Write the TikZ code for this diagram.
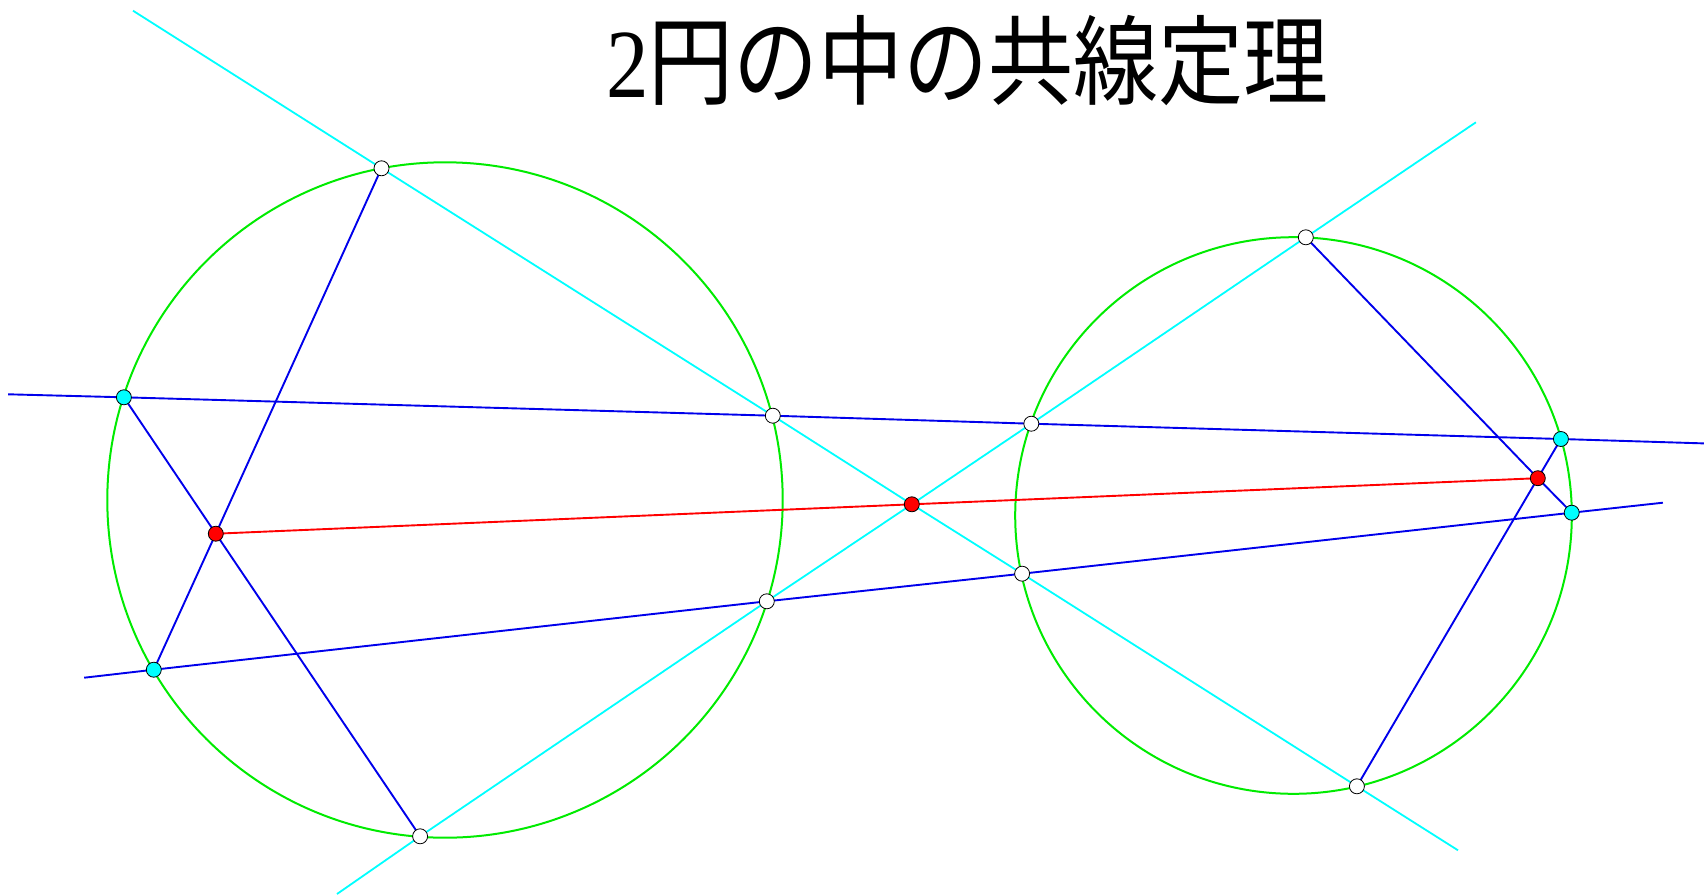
\documentclass[tikz,border=0pt]{standalone}
\usepackage{fontspec}
\setmainfont{Liberation Serif}
\newfontfamily\cjk{Noto Sans CJK JP}
\definecolor{gcirc}{RGB}{0,235,0}
\definecolor{cyanl}{RGB}{0,255,255}
\definecolor{bluel}{RGB}{0,0,235}
\definecolor{redl}{RGB}{255,0,0}
\tikzset{
  circ/.style={gcirc, line width=2pt},
  cline/.style={cyanl, line width=1.8pt},
  bline/.style={bluel, line width=1.9pt},
  rline/.style={redl, line width=1.9pt},
  pt/.style={circle, draw=black, line width=0.8pt, minimum size=15pt, inner sep=0pt},
  wpt/.style={pt, fill=white},
  cpt/.style={pt, fill=cyanl},
  rpt/.style={pt, fill=redl},
}
\begin{document}
\begin{tikzpicture}[x=1pt,y=-1pt]
\useasboundingbox (0,0) rectangle (1704,894);
% points
\coordinate (A) at (381.5,168.3);
\coordinate (P1) at (123.9,397.3);
\coordinate (W1) at (772.8,415.7);
\coordinate (R1) at (215.8,533.7);
\coordinate (P2) at (153.8,669.7);
\coordinate (B) at (420.1,836.3);
\coordinate (W2) at (766.8,601.3);
\coordinate (M) at (911.8,504.3);
\coordinate (T) at (1305.8,237.3);
\coordinate (W3) at (1031.3,423.7);
\coordinate (P3) at (1560.9,439);
\coordinate (R2) at (1537.8,478.2);
\coordinate (P4) at (1571.7,512.7);
\coordinate (W4) at (1022.1,573.7);
\coordinate (BB) at (1356.9,786.3);
% line ends
\coordinate (c1s) at (133,10.7);
\coordinate (c1e) at (1458,850.3);
\coordinate (c2s) at (337,894);
\coordinate (c2e) at (1475.9,122.3);
\coordinate (b1s) at (8.2,394.3);
\coordinate (b1e) at (1704,443.4);
\coordinate (b2s) at (84.2,677.7);
\coordinate (b2e) at (1662.9,502.7);
% circles
\draw[circ] (445,500) circle[radius=337.7];
\draw[circ] (1293.5,515.5) circle[radius=278.3];
% cyan lines
\draw[cline] (c1s) -- (A) -- (W1) -- (M) -- (W4) -- (BB) -- (c1e);
\draw[cline] (c2s) -- (B) -- (W2) -- (M) -- (W3) -- (T) -- (c2e);
% blue lines
\draw[bline] (b1s) -- (P1) -- (W1) -- (W3) -- (P3) -- (b1e);
\draw[bline] (b2s) -- (P2) -- (W2) -- (W4) -- (P4) -- (b2e);
\draw[bline] (A) -- (R1) -- (P2);
\draw[bline] (P1) -- (R1) -- (B);
\draw[bline] (T) -- (R2) -- (P4);
\draw[bline] (BB) -- (R2) -- (P3);
% red line
\draw[rline] (R1) -- (M) -- (R2);
% point markers
\node[wpt] (nA) at (A) {};
\node[wpt] (nW1) at (W1) {};
\node[wpt] (nB) at (B) {};
\node[wpt] (nW2) at (W2) {};
\node[wpt] (nT) at (T) {};
\node[wpt] (nW3) at (W3) {};
\node[wpt] (nW4) at (W4) {};
\node[wpt] (nBB) at (BB) {};
\node[cpt] (nP1) at (P1) {};
\node[cpt] (nP2) at (P2) {};
\node[cpt] (nP3) at (P3) {};
\node[cpt] (nP4) at (P4) {};
\node[rpt] (nR1) at (R1) {};
\node[rpt] (nM) at (M) {};
\node[rpt] (nR2) at (R2) {};
% title
\node[anchor=base west, inner sep=0pt, font=\fontsize{85}{85}\selectfont] (title) at (606,97)
  {\scalebox{1}[1.15]{2{\cjk 円の中の共線定理}}};
\end{tikzpicture}
\end{document}
